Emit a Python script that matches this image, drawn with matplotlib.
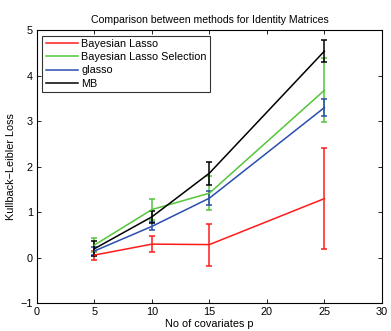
import matplotlib
matplotlib.use("Agg")
import matplotlib.pyplot as plt

plt.rcParams['font.family'] = ['Liberation Sans', 'DejaVu Sans']

p = [5, 10, 15, 25]
series_names = ["Bayesian Lasso", "Bayesian Lasso Selection", "glasso", "MB"]
bl_mean = [0.06, 0.30, 0.29, 1.30]
bl_err = [0.10, 0.18, 0.46, 1.11]
bls_mean = [0.28, 1.06, 1.42, 3.68]
bls_err = [0.15, 0.23, 0.37, 0.70]
gl_mean = [0.15, 0.69, 1.31, 3.30]
gl_err = [0.08, 0.09, 0.16, 0.19]
mb_mean = [0.20, 0.90, 1.86, 4.54]
mb_err = [0.16, 0.13, 0.25, 0.24]
colors = ["#ff1a1a", "#55c53a", "#2a4db0", "#000000"]

fig = plt.figure(figsize=(3.91, 3.31), dpi=100)
ax = fig.add_axes([0.0946, 0.0837, 0.882, 0.825])

for name, m, e, c in zip(series_names,
                         [bl_mean, bls_mean, gl_mean, mb_mean],
                         [bl_err, bls_err, gl_err, mb_err], colors):
    ax.errorbar(p, m, yerr=e, color=c, lw=1.1, elinewidth=1.1,
                capsize=2, capthick=1.1, label=name)

ax.set_xlim(0, 30)
ax.set_ylim(-1, 5)
ax.set_xticks([0, 5, 10, 15, 20, 25, 30])
ax.set_yticks([-1, 0, 1, 2, 3, 4, 5])
ax.set_yticklabels(["\u22121", "0", "1", "2", "3", "4", "5"])
ax.tick_params(direction='in', top=True, right=True, labelsize=7.8,
               length=3, width=0.6, pad=3)
for s in ax.spines.values():
    s.set_linewidth(0.8)

ax.set_title("Comparison between methods for Identity Matrices", fontsize=7.6, pad=5)
ax.set_xlabel("No of covariates p", fontsize=7.8, labelpad=1)
ax.set_ylabel("Kullback\u2212Leibler Loss", fontsize=7.8, labelpad=3)

handles, labels = ax.get_legend_handles_labels()
handles = [h[0] for h in handles]
leg = ax.legend(handles, labels, loc='upper left', fontsize=7.8, frameon=True,
                fancybox=False, edgecolor='black', handlelength=3.0,
                handletextpad=0.3, labelspacing=0.3, borderpad=0.3,
                borderaxespad=0.5)
leg.get_frame().set_linewidth(0.8)

fig.savefig("out.png", dpi=100)
